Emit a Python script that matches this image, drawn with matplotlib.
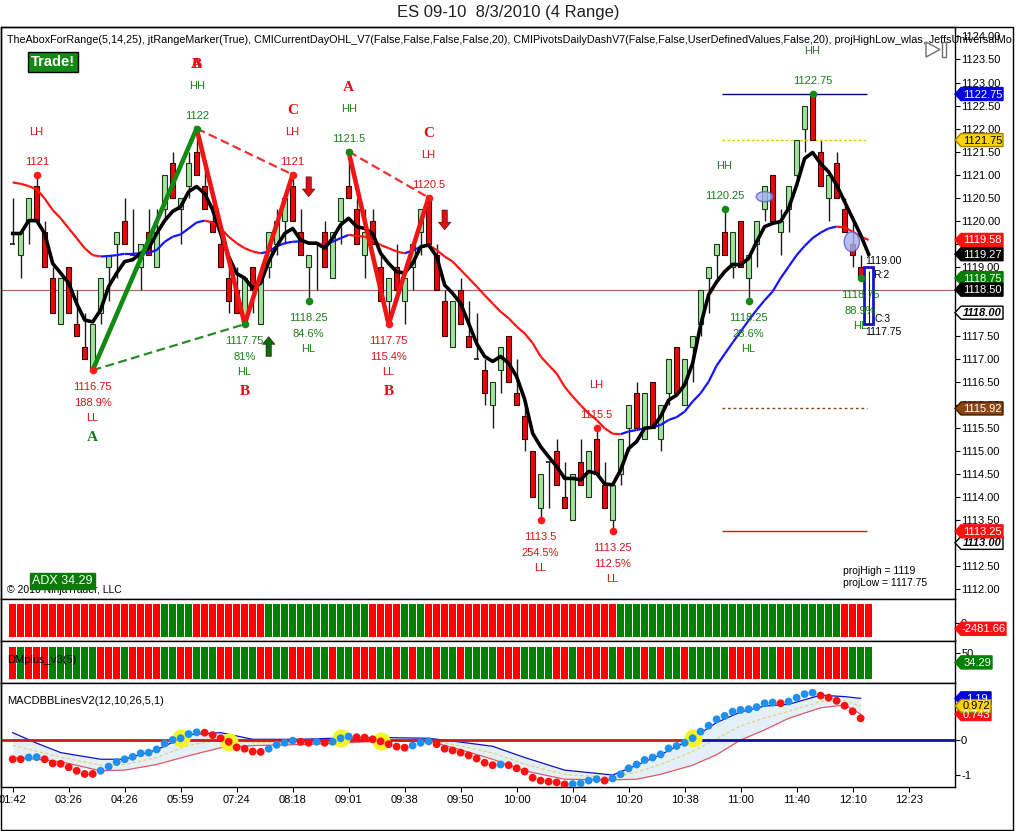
"""ES 09-10 8/3/2010 (4 Range) - NinjaTrader style range-bar chart."""
import numpy as np
import matplotlib

matplotlib.use("Agg")
import matplotlib.pyplot as plt
from matplotlib.collections import LineCollection
from matplotlib.patches import Polygon, Rectangle, Ellipse

plt.rcParams['font.family'] = ['Liberation Sans', 'DejaVu Sans']

# ---------------- data ----------------
OPEN = [1119.5, 1119.25, 1120.0, 1120.75, 1119.75, 1118.75, 1117.75, 1119.0, 1117.75, 1117.25,
        1116.75, 1118.0, 1119.0, 1119.5, 1120.0, 1119.25, 1119.0, 1119.75, 1119.0, 1120.25,
        1121.25, 1120.25, 1120.75, 1121.5, 1120.75, 1120.0, 1119.5, 1118.75, 1118.5, 1117.75,
        1119.0, 1117.75, 1119.0, 1119.5, 1120.0, 1120.75, 1119.75, 1119.0, 1119.5, 1119.75,
        1118.75, 1120.0, 1120.75, 1120.25, 1119.25, 1120.0, 1119.0, 1118.25, 1119.0, 1118.25,
        1119.0, 1119.75, 1120.5, 1119.25, 1118.25, 1117.25, 1118.5, 1117.5, 1117.0, 1116.75,
        1116.0, 1116.75, 1117.5, 1116.25, 1115.75, 1115.0, 1113.75, 1114.75, 1115.0, 1114.0,
        1113.5, 1114.75, 1114.0, 1115.25, 1114.25, 1113.5, 1114.5, 1115.5, 1116.25, 1115.25,
        1116.5, 1115.25, 1116.25, 1117.25, 1116.0, 1117.25, 1117.75, 1118.75, 1119.25, 1119.75,
        1119.0, 1120.0, 1118.75, 1119.5, 1120.25, 1121.0, 1119.75, 1120.25, 1121.0, 1122.0,
        1122.75, 1121.5, 1120.5, 1121.25, 1120.25, 1119.5, 1119.0]
HIGH = [1120.5, 1119.75, 1120.5, 1121.0, 1120.0, 1119.0, 1118.75, 1119.0, 1118.5, 1118.0,
        1117.75, 1118.75, 1119.25, 1119.75, 1120.5, 1120.25, 1119.5, 1120.25, 1120.25, 1121.0,
        1121.5, 1120.5, 1121.5, 1122.0, 1121.25, 1120.5, 1119.75, 1119.0, 1119.0, 1118.75,
        1119.0, 1118.75, 1119.75, 1120.25, 1120.5, 1121.0, 1120.25, 1119.25, 1119.5, 1120.0,
        1119.75, 1120.5, 1121.5, 1120.5, 1120.25, 1120.25, 1119.25, 1118.75, 1119.5, 1118.75,
        1119.5, 1120.25, 1120.5, 1119.5, 1118.5, 1118.25, 1118.75, 1118.25, 1118.0, 1117.0,
        1116.5, 1117.25, 1117.5, 1117.0, 1116.0, 1115.0, 1114.5, 1114.75, 1115.25, 1114.75,
        1114.5, 1115.25, 1115.0, 1115.5, 1114.75, 1114.25, 1115.25, 1116.0, 1116.5, 1116.25,
        1116.5, 1116.0, 1117.0, 1117.25, 1117.0, 1117.5, 1118.5, 1119.0, 1119.5, 1120.25,
        1119.75, 1120.0, 1119.25, 1120.0, 1120.75, 1121.0, 1120.25, 1120.75, 1121.75, 1122.5,
        1122.75, 1121.75, 1121.0, 1121.5, 1120.5, 1120.0, 1119.25]
LOW = [1119.5, 1118.75, 1119.5, 1120.0, 1119.0, 1118.0, 1117.75, 1118.0, 1117.5, 1117.0,
       1116.75, 1117.75, 1118.25, 1118.75, 1119.5, 1119.25, 1118.5, 1119.25, 1119.0, 1120.0,
       1120.5, 1119.5, 1120.5, 1121.0, 1120.25, 1119.75, 1119.0, 1118.0, 1118.0, 1117.75,
       1118.0, 1117.75, 1118.75, 1119.25, 1119.5, 1120.0, 1119.25, 1118.25, 1118.5, 1119.0,
       1118.75, 1119.5, 1120.5, 1119.5, 1118.75, 1119.5, 1118.25, 1117.75, 1118.5, 1117.75,
       1118.5, 1119.25, 1119.5, 1118.5, 1117.5, 1117.25, 1117.75, 1117.25, 1117.0, 1116.0,
       1115.5, 1116.25, 1116.5, 1116.0, 1115.0, 1114.0, 1113.5, 1113.75, 1114.25, 1113.75,
       1113.5, 1114.25, 1114.0, 1114.5, 1113.75, 1113.25, 1114.25, 1115.0, 1115.5, 1115.25,
       1115.5, 1115.0, 1116.0, 1116.25, 1116.0, 1116.5, 1117.5, 1118.0, 1118.75, 1119.25,
       1118.75, 1119.0, 1118.25, 1119.0, 1120.0, 1120.0, 1119.25, 1119.75, 1120.75, 1121.5,
       1121.75, 1120.75, 1120.0, 1120.5, 1119.75, 1119.0, 1118.75]
CLOSE = [1119.5, 1119.75, 1120.5, 1120.0, 1119.0, 1118.0, 1118.75, 1118.0, 1117.5, 1117.0,
         1117.75, 1118.75, 1119.25, 1119.75, 1119.5, 1119.25, 1119.5, 1119.25, 1119.75, 1121.0,
         1120.5, 1120.5, 1121.25, 1121.0, 1120.25, 1119.75, 1119.0, 1118.25, 1118.0, 1118.75,
         1118.5, 1118.75, 1119.75, 1120.0, 1120.5, 1120.0, 1119.25, 1119.25, 1119.5, 1119.0,
         1119.75, 1120.5, 1120.5, 1119.5, 1119.75, 1119.5, 1118.25, 1118.75, 1118.5, 1118.75,
         1119.5, 1120.25, 1119.5, 1118.5, 1117.5, 1118.25, 1117.75, 1117.25, 1117.0, 1116.25,
         1116.5, 1117.25, 1116.5, 1116.0, 1115.25, 1114.0, 1114.5, 1114.75, 1114.25, 1113.75,
         1114.5, 1114.25, 1115.0, 1114.5, 1113.75, 1114.25, 1115.25, 1116.0, 1115.5, 1116.25,
         1115.5, 1116.0, 1117.0, 1116.25, 1117.0, 1117.5, 1118.5, 1119.0, 1119.5, 1119.25,
         1119.75, 1119.0, 1119.25, 1120.0, 1120.75, 1120.0, 1120.0, 1120.75, 1121.75, 1122.5,
         1121.75, 1120.75, 1121.0, 1120.5, 1119.75, 1119.25, 1118.75]
CUR_HIGH, CUR_LOW = 1119.00, 1117.75   # bar still forming (blue box)

FAST_MA = [1119.72, 1119.72, 1120.0, 1120.0, 1119.72, 1119.07, 1118.86, 1118.64, 1118.2, 1117.84,
           1117.8, 1118.06, 1118.57, 1118.86, 1119.11, 1119.15, 1119.29, 1119.4, 1119.72, 1120.0,
           1120.2, 1120.3, 1120.63, 1120.74, 1120.59, 1120.23, 1119.72, 1119.22, 1118.85, 1118.75,
           1118.53, 1118.64, 1119.11, 1119.44, 1119.72, 1119.83, 1119.58, 1119.51, 1119.51, 1119.4,
           1119.62, 1119.91, 1120.05, 1119.87, 1119.83, 1119.72, 1119.29, 1119.07, 1118.89, 1118.86,
           1119.07, 1119.43, 1119.47, 1119.22, 1118.6, 1118.42, 1118.2, 1117.77, 1117.33, 1117.05,
           1116.94, 1117.05, 1116.9, 1116.61, 1116.12, 1115.38, 1115.09, 1114.87, 1114.66, 1114.4,
           1114.4, 1114.37, 1114.55, 1114.51, 1114.28, 1114.26, 1114.58, 1115.05, 1115.2, 1115.49,
           1115.51, 1115.74, 1116.1, 1116.21, 1116.43, 1116.9, 1117.73, 1118.39, 1118.67, 1118.89,
           1119.05, 1119.04, 1119.18, 1119.54, 1119.87, 1119.94, 1119.98, 1120.27, 1120.77, 1121.35,
           1121.48, 1121.24, 1121.06, 1120.77, 1120.41, 1120.05, 1119.69, 1119.27]
SLOW_MA = [1120.83, 1120.8, 1120.75, 1120.68, 1120.48, 1120.23, 1120.05, 1119.83, 1119.62, 1119.4,
           1119.25, 1119.22, 1119.23, 1119.25, 1119.28, 1119.28, 1119.29, 1119.3, 1119.36, 1119.54,
           1119.65, 1119.7, 1119.83, 1119.96, 1120.0, 1119.96, 1119.83, 1119.65, 1119.51, 1119.4,
           1119.33, 1119.29, 1119.33, 1119.44, 1119.51, 1119.54, 1119.55, 1119.52, 1119.51, 1119.47,
           1119.54, 1119.62, 1119.69, 1119.67, 1119.65, 1119.58, 1119.47, 1119.4, 1119.33, 1119.29,
           1119.35, 1119.43, 1119.47, 1119.36, 1119.22, 1119.11, 1118.93, 1118.75, 1118.57, 1118.38,
           1118.2, 1118.02, 1117.88, 1117.7, 1117.55, 1117.34, 1117.05, 1116.86, 1116.68, 1116.39,
           1116.18, 1115.99, 1115.81, 1115.67, 1115.49, 1115.37, 1115.36, 1115.42, 1115.45, 1115.49,
           1115.51, 1115.56, 1115.67, 1115.73, 1115.85, 1116.07, 1116.25, 1116.5, 1116.85, 1117.1,
           1117.35, 1117.59, 1117.83, 1118.06, 1118.27, 1118.46, 1118.75, 1119.0, 1119.25, 1119.45,
           1119.62, 1119.74, 1119.83, 1119.87, 1119.85, 1119.76, 1119.65, 1119.58]

# swing pivots (bar index, price, label, retracement)
SW_IDX = [3, 23, 35, 42, 52, 73, 89, 100, 10, 29, 37, 47, 66, 75, 92, 106]
SW_PRICE = [1121.0, 1122.0, 1121.0, 1121.5, 1120.5, 1115.5, 1120.25, 1122.75,
            1116.75, 1117.75, 1118.25, 1117.75, 1113.5, 1113.25, 1118.25, 1118.75]
SW_TAG = ['LH', 'HH', 'LH', 'HH', 'LH', 'LH', 'HH', 'HH',
          'LL', 'HL', 'HL', 'LL', 'LL', 'LL', 'HL', 'HL']
SW_PCT = ['', '', '', '', '', '', '', '',
          '188.9%', '81%', '84.6%', '115.4%', '254.5%', '112.5%', '28.6%', '88.9%']
LETTER_IDX = [23, 23, 35, 42, 52, 10, 29, 47]
LETTER_PRICE = [1122.0, 1122.0, 1121.0, 1121.5, 1120.5, 1116.75, 1117.75, 1117.75]
LETTERS = ['A', 'B', 'C', 'A', 'C', 'A', 'B', 'B']

# ABC pattern legs
BULL_LEG_X, BULL_LEG_Y = [10, 23], [1116.75, 1122.0]
BEAR_LEG1_X, BEAR_LEG1_Y = [23, 29, 35], [1122.0, 1117.75, 1121.0]
BEAR_LEG2_X, BEAR_LEG2_Y = [42, 47, 52], [1121.5, 1117.75, 1120.5]
LOW_LINK_X, LOW_LINK_Y = [10, 29], [1116.75, 1117.75]
HIGH_LINK1_X, HIGH_LINK1_Y = [23, 35], [1122.0, 1121.0]
HIGH_LINK2_X, HIGH_LINK2_Y = [42, 52], [1121.5, 1120.5]

DOWN_ARROW_IDX = [37, 54]
DOWN_ARROW_TAIL = [1120.95, 1120.23]
DOWN_ARROW_TIP = [1120.52, 1119.80]
UP_ARROW_IDX = [32]
UP_ARROW_TAIL = [1117.05]
UP_ARROW_TIP = [1117.48]

DAY_HIGH, DAY_MID, DAY_PIVOT, DAY_LOW = 1122.75, 1121.75, 1115.92, 1113.25
LEVEL_FROM, LEVEL_TO = 88.7, 106.8
LAST_PRICE = 1118.50
PIVOT_TAGS = [1118.00, 1113.00]

# lower panels: one colour per bar
ADX_COLORS = 'r' * 19 + 'g' * 4 + 'r' * 9 + 'g' * 13 + 'r' * 4 + 'g' * 3 + 'r' * 24 + 'g' * 28 + 'r' * 4
DMP_COLORS = ('r' 'g' 'rrr' 'gggggg' 'rrr' 'g' 'rrrr' 'gg' 'rr' 'ggg' 'rr' 'ggg' 'rr' 'gg' 'rrr'
              'gg' 'r' 'gg' 'rrr' 'gg' 'r' 'g' 'r' 'gg' 'r' 'gg' 'r' 'gggg' 'rrr' 'gggg' 'rr' 'g'
              'rrrr' 'g' 'r' 'gg' 'r' 'g' 'r' 'gg' 'r' 'ggggg' 'rrrr' 'gg' 'rr' 'ggg' 'rrrr' 'ggg')

MACD = [-0.55, -0.55, -0.50, -0.49, -0.55, -0.67, -0.68, -0.78, -0.88, -0.97,
        -0.97, -0.88, -0.76, -0.63, -0.55, -0.48, -0.38, -0.36, -0.27, -0.10,
        0.0, 0.05, 0.17, 0.22, 0.21, 0.14, 0.05, -0.05, -0.21, -0.25,
        -0.33, -0.34, -0.25, -0.14, -0.08, -0.02, -0.05, -0.08, -0.05, -0.08,
        -0.05, 0.05, 0.10, 0.08, 0.07, 0.02, -0.04, -0.12, -0.19, -0.22,
        -0.16, -0.08, -0.04, -0.12, -0.25, -0.30, -0.36, -0.44, -0.53, -0.65,
        -0.72, -0.70, -0.72, -0.81, -0.90, -1.08, -1.16, -1.19, -1.21, -1.27,
        -1.26, -1.24, -1.16, -1.12, -1.16, -1.10, -0.98, -0.81, -0.70, -0.57,
        -0.50, -0.41, -0.24, -0.17, -0.08, 0.05, 0.24, 0.41, 0.59, 0.69,
        0.81, 0.86, 0.88, 0.94, 1.05, 1.07, 1.05, 1.10, 1.21, 1.31,
        1.35, 1.27, 1.21, 1.12, 0.98, 0.82, 0.62]
MACD_CROSS = [21, 27, 41, 46, 85]
BAND_IDX = [0, 3, 6, 11, 14, 18, 22, 26, 30, 36, 40, 46, 52, 56, 60, 64, 69, 75, 78, 81,
            85, 88, 91, 94, 97, 101, 104, 106]
BAND_UP = [0.21, -0.09, -0.36, -0.55, -0.55, -0.28, 0.15, 0.21, 0.02, 0.02, 0.05, 0.07, 0.05,
           -0.06, -0.18, -0.5, -0.86, -1.0, -0.72, -0.42, 0.05, 0.5, 0.8, 0.97, 1.02, 1.28, 1.24, 1.19]
BAND_LO = [-0.5, -0.55, -0.62, -0.88, -0.86, -0.7, -0.45, -0.22, -0.16, -0.13, -0.1, -0.03, -0.03,
           -0.28, -0.55, -0.88, -1.12, -1.14, -1.12, -0.98, -0.72, -0.42, 0.0, 0.29, 0.62, 0.92, 1.0, 0.74]
BAND_MID = [-0.15, -0.32, -0.49, -0.72, -0.7, -0.5, -0.15, 0.0, -0.07, -0.06, -0.03, 0.02, 0.01,
            -0.17, -0.37, -0.69, -0.99, -1.07, -0.92, -0.7, -0.33, 0.04, 0.4, 0.63, 0.82, 1.1, 1.12, 0.97]

TIME_LABELS = ['01:42', '03:26', '04:26', '05:59', '07:24', '08:18', '09:01', '09:38', '09:50',
               '10:00', '10:04', '10:20', '10:38', '11:00', '11:40', '12:10', '12:23']
BARS_PER_LABEL = 7

# ---------------- figure layout (pixel boxes) ----------------
W, H = 1016, 831
RED, GREEN = '#ff0000', '#008000'
TXT_RED, TXT_GREEN = '#d41414', '#1c7c1c'

fig = plt.figure(figsize=(W / 100, H / 100), dpi=100)


def box(x0, y0, x1, y1):
    return [x0 / W, 1 - y1 / H, (x1 - x0) / W, (y1 - y0) / H]


ax = fig.add_axes(box(1, 27, 955, 599))
ax2 = fig.add_axes(box(1, 599, 955, 641), sharex=ax)
ax3 = fig.add_axes(box(1, 641, 955, 683), sharex=ax)
ax4 = fig.add_axes(box(1, 683, 955, 787), sharex=ax)
ov = fig.add_axes([0, 0, 1, 1])
ov.set_xlim(0, W)
ov.set_ylim(H, 0)
ov.axis('off')

ax.set_xlim(-1.46, 117.8)
ax.set_ylim(1111.78, 1124.206)
ax2.set_ylim(0, 1)
ax3.set_ylim(0, 70)
ax4.set_ylim(-1.343, 1.629)

for a in (ax, ax2, ax3, ax4):
    a.yaxis.tick_right()
    a.tick_params(axis='y', direction='out', length=3.6, width=0.8, pad=0.8, labelsize=8)
    a.tick_params(axis='x', bottom=False, labelbottom=False)
    for s in a.spines.values():
        s.set_linewidth(1)
ax4.tick_params(axis='x', bottom=True, labelbottom=True, direction='out', length=3.6,
                width=0.8, pad=2.5, labelsize=8)
ax4.set_xticks(np.arange(len(TIME_LABELS)) * BARS_PER_LABEL)
ax4.set_xticklabels(TIME_LABELS)

# price ticks; those sitting under a price tag are drawn by the tag itself
ticks = np.arange(1112, 1124.01, 0.5)
covered = set(PIVOT_TAGS + [LAST_PRICE])
ax.set_yticks(ticks, ['' if t in covered else f'{t:.2f}' for t in ticks])
ax2.set_yticks([0.43], ['0'])
ax3.set_yticks([50], ['50'])
ax4.set_yticks([0, -1], ['0', '-1'])

# ---------------- price panel ----------------
o, h, l, c = map(np.array, (OPEN, HIGH, LOW, CLOSE))
idx = np.arange(len(o))
up, dn, flat = c > o, c < o, c == o
ax.axhline(LAST_PRICE, color='#b06868', lw=0.9, zorder=1)
ax.vlines(idx, l, h, color='#1e1e1e', lw=1, zorder=2)
ax.bar(idx[up], (c - o)[up], bottom=o[up], width=0.62, color='#a3e3a0',
       edgecolor='#1a3a1a', lw=0.8, zorder=3)
ax.bar(idx[dn], (o - c)[dn], bottom=c[dn], width=0.62, color='#e80a0a',
       edgecolor='#3a0000', lw=0.8, zorder=3)
ax.hlines(o[flat], idx[flat] - 0.35, idx[flat] + 0.35, color='#1e1e1e', lw=1.2, zorder=3)

cur = len(o)
ax.add_patch(Rectangle((cur - 0.58, CUR_LOW), 1.16, CUR_HIGH - CUR_LOW, fc='white',
                       ec='#1414d0', lw=2, zorder=4))
ax.vlines(cur, CUR_LOW, CUR_HIGH - 0.1, color='#1e1e1e', lw=0.8, zorder=5)

# day levels
ax.hlines(DAY_HIGH, LEVEL_FROM, LEVEL_TO, color='#00008b', lw=1, zorder=2)
ax.hlines(DAY_MID, LEVEL_FROM, LEVEL_TO, color='#e8c800', lw=1, ls=(0, (2, 1.5)), zorder=2)
ax.hlines(DAY_PIVOT, LEVEL_FROM, LEVEL_TO, color='#8b4513', lw=1, ls=(0, (2, 2)), zorder=2)
ax.hlines(DAY_LOW, LEVEL_FROM, LEVEL_TO, color='#e01010', lw=1, zorder=2)

# slow MA coloured by slope, fast MA black
sx = np.arange(len(SLOW_MA))
sy = np.array(SLOW_MA)
segs = [[(sx[k], sy[k]), (sx[k + 1], sy[k + 1])] for k in range(len(sx) - 1)]
cols = ['#1414ff' if sy[k + 1] >= sy[k] else '#ff1414' for k in range(len(sx) - 1)]
ax.add_collection(LineCollection(segs, colors=cols, linewidths=1.6, zorder=4))
ax.plot(np.arange(len(FAST_MA)), FAST_MA, color='black', lw=2.6, zorder=5,
        solid_joinstyle='round')

ax.add_patch(Ellipse((94.0, 1120.52), 2.1, 0.22, fc='#a8b0f0', ec='#5060d0', lw=1,
                     alpha=0.8, zorder=6))
ax.add_patch(Ellipse((104.9, 1119.54), 1.9, 0.43, fc='#a8b0f0', ec='#5060d0', lw=1,
                     alpha=0.8, zorder=6))

# pattern legs
ax.plot(BULL_LEG_X, BULL_LEG_Y, color='#108a10', lw=3.3, zorder=6)
ax.plot(BEAR_LEG1_X, BEAR_LEG1_Y, color='#f01414', lw=3.3, zorder=6)
ax.plot(BEAR_LEG2_X, BEAR_LEG2_Y, color='#f01414', lw=3.3, zorder=6)
ax.plot(LOW_LINK_X, LOW_LINK_Y, color='#2a8a2a', lw=1.6, ls=(0, (4, 2)), zorder=6)
ax.plot(HIGH_LINK1_X, HIGH_LINK1_Y, color='#f03030', lw=1.6, ls=(0, (4, 2)), zorder=6)
ax.plot(HIGH_LINK2_X, HIGH_LINK2_Y, color='#f03030', lw=1.6, ls=(0, (4, 2)), zorder=6)

for xs, tails, tips, col in ((DOWN_ARROW_IDX, DOWN_ARROW_TAIL, DOWN_ARROW_TIP, '#e01010'),
                             (UP_ARROW_IDX, UP_ARROW_TAIL, UP_ARROW_TIP, '#0a6a0a')):
    for xi, t0, t1 in zip(xs, tails, tips):
        ax.annotate('', xy=(xi, t1), xytext=(xi, t0), zorder=7,
                    arrowprops=dict(arrowstyle='simple,head_width=0.9,head_length=0.55,tail_width=0.38',
                                    fc=col, ec='#400000', lw=0.4, shrinkA=0, shrinkB=0))

# swing points and their labels
for i, p, tag, pct in zip(SW_IDX, SW_PRICE, SW_TAG, SW_PCT):
    col = TXT_GREEN if tag in ('HH', 'HL') else TXT_RED
    dot = '#128a12' if tag in ('HH', 'HL') else '#ff1a1a'
    ax.scatter([i], [p], s=30, color=dot, zorder=8, linewidths=0)
    if tag in ('HH', 'LH'):
        lines = [(13, f'{p:g}'), (43, tag)]
    else:
        lines = [(-17, f'{p:g}'), (-33, pct), (-48, tag)]
    for off, txt in lines:
        ax.annotate(txt, (i, p), xytext=(0, off), textcoords='offset pixels', ha='center',
                    va='center', color=col, fontsize=8, zorder=8, annotation_clip=False)
for i, p, let in zip(LETTER_IDX, LETTER_PRICE, LETTERS):
    high = p >= max(h[max(i - 1, 0):i + 2])
    off = 64 if high else -67
    col = TXT_GREEN if (let == 'A' and not high) else '#e01010'
    ax.annotate(let, (i, p), xytext=(0, off), textcoords='offset pixels', ha='center',
                va='center', color=col, fontsize=11, fontweight='bold',
                family=['Liberation Serif', 'DejaVu Serif'], zorder=8)

for txt, dx, yv, dy in (('1119.00', -3, CUR_HIGH, 6), ('R:2', 5, CUR_HIGH, -8),
                        ('C:3', 6, CUR_LOW, 5), ('1117.75', -3, CUR_LOW, -8)):
    ax.annotate(txt, (cur, yv), xytext=(dx, dy), textcoords='offset pixels', ha='left',
                va='center', fontsize=7.5, color='black', zorder=9, annotation_clip=False)

# ---------------- lower panels ----------------
pidx = np.arange(len(ADX_COLORS))
ax2.bar(pidx, 0.786, bottom=0.095, width=0.88,
        color=[RED if k == 'r' else GREEN for k in ADX_COLORS], lw=0)
ax3.bar(pidx, 53.3, bottom=6.7, width=0.88,
        color=[RED if k == 'r' else GREEN for k in DMP_COLORS[:len(pidx)]], lw=0)

m = np.array(MACD)
mi = np.arange(len(m))
ax4.fill_between(BAND_IDX, BAND_LO, BAND_UP, color='#e4f0f8', lw=0, zorder=1)
ax4.plot(BAND_IDX, BAND_UP, color='#1010c0', lw=0.9, zorder=2)
ax4.plot(BAND_IDX, BAND_LO, color='#e05868', lw=0.9, zorder=2)
ax4.plot(BAND_IDX, BAND_MID, color='#e0d070', lw=0.8, ls=(0, (3, 2)), zorder=2)
cross = MACD_CROSS[-1]
ax4.plot([-1.46, cross], [0, 0], color='#cc1a1a', lw=2, zorder=3)
ax4.plot([cross, 117.8], [0, 0], color='#1010a8', lw=2, zorder=3)
ax4.scatter(MACD_CROSS, m[MACD_CROSS], s=170, color='#f4f428', lw=0, zorder=4)
mcol = ['#ff1010'] + ['#2090f0' if m[k] > m[k - 1] else '#ff1010' for k in range(1, len(m))]
ax4.scatter(mi, m, s=32, c=mcol, lw=0, zorder=5)

# ---------------- overlay: frame, tags, captions ----------------
ov.add_patch(Rectangle((1, 27), 1012, 803, fill=False, ec='black', lw=1))


def tag(a, value, text, fc, tc='white', right=1003, ec=None, bold_italic=False):
    y = H - a.transData.transform((0, value))[1]
    pts = [(955, y), (961, y - 6.5), (right, y - 6.5), (right, y + 6.5), (961, y + 6.5)]
    ov.add_patch(Polygon(pts, closed=True, fc=fc, ec=ec or fc, lw=1, zorder=5))
    ov.text((961 + right) / 2 + 0.5, y + 0.5, text, color=tc, fontsize=8, ha='center',
            va='center', zorder=6, fontweight='bold' if bold_italic else 'normal',
            fontstyle='italic' if bold_italic else 'normal')


tag(ax, DAY_HIGH, f'{DAY_HIGH:.2f}', '#0000e0')
tag(ax, DAY_MID, f'{DAY_MID:.2f}', '#ffd400', tc='black', ec='#a08000')
tag(ax, SLOW_MA[-1], f'{SLOW_MA[-1]:.2f}', '#ff1010')
tag(ax, FAST_MA[-1], f'{FAST_MA[-1]:.2f}', 'black')
tag(ax, LOW[-1], f'{LOW[-1]:.2f}', GREEN)
tag(ax, LAST_PRICE, f'{LAST_PRICE:.2f}', 'black')
for pv in PIVOT_TAGS:
    tag(ax, pv, f'{pv:.2f}', 'white', tc='black', ec='black', bold_italic=True)
tag(ax, DAY_PIVOT, f'{DAY_PIVOT:.2f}', '#8b4513', ec='#3a1a00')
tag(ax, DAY_LOW, f'{DAY_LOW:.2f}', '#ff1010')
tag(ax2, 0.29, '-2481.66', '#ff1010', right=1006)
tag(ax3, 34.29, '34.29', GREEN, right=992)
tag(ax4, 1.19, '1.19', '#0000e0', right=991)
tag(ax4, 0.743, '0.743', '#ff1010', right=991)
tag(ax4, 0.972, '0.972', '#ffd400', tc='black', right=991, ec='#a08000')

ov.text(508, 12, 'ES 09-10  8/3/2010 (4 Range)', ha='center', va='center', fontsize=12,
        color='#202020')
ov.text(7, 40, 'TheAboxForRange(5,14,25), jtRangeMarker(True), CMICurrentDayOHL_V7(False,False,'
        'False,False,20), CMIPivotsDailyDashV7(False,False,UserDefinedValues,False,20), '
        'projHighLow_wlas, JeffsUniversalMo', ha='left', va='center', fontsize=7.75, zorder=7)
ov.text(53, 62, 'Trade!', ha='center', va='center', fontsize=10.5, fontweight='bold',
        color='white', zorder=7,
        bbox=dict(boxstyle='square,pad=0.22', fc='#138a13', ec='black', lw=1))
ov.text(7, 590, '\u00a9 2010 NinjaTrader, LLC', ha='left', va='center', fontsize=7.5, zorder=6)
ov.text(62, 581, 'ADX 34.29', ha='center', va='center', fontsize=9, color='white', zorder=7,
        bbox=dict(boxstyle='square,pad=0.18', fc='#0a7a0a', ec='#0a7a0a', lw=1))
ov.text(843, 571, 'projHigh = 1119', ha='left', va='center', fontsize=7.5, zorder=7)
ov.text(843, 583, 'projLow = 1117.75', ha='left', va='center', fontsize=7.5, zorder=7)
ov.text(7, 660, 'DMplus_v3(5)', ha='left', va='center', fontsize=8, zorder=7)
ov.text(7, 701, 'MACDBBLinesV2(12,10,26,5,1)', ha='left', va='center', fontsize=8, zorder=7)
ov.add_patch(Polygon([(926, 42), (940, 49.5), (926, 57)], closed=True, fc='white',
                     ec='#707070', lw=1, zorder=7))
ov.add_patch(Rectangle((942, 42), 4, 15, fc='white', ec='#707070', lw=1, zorder=7))

fig.savefig('out.png', dpi=100)
